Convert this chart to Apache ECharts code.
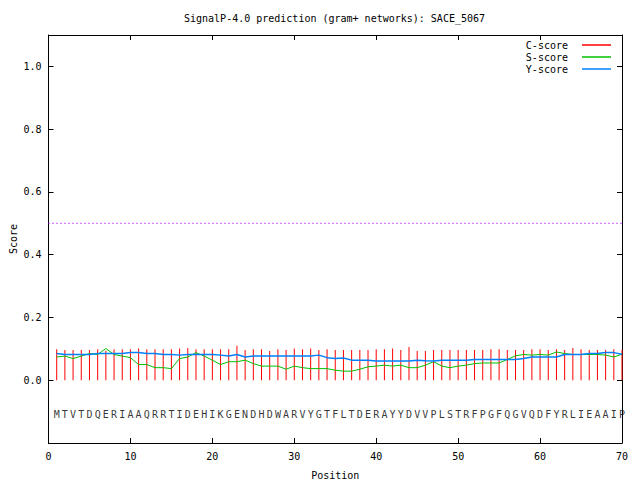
<!DOCTYPE html>
<html>
<head>
<meta charset="utf-8">
<script src="https://cdn.jsdelivr.net/npm/echarts@6/dist/echarts.min.js"></script>
<style>html,body{margin:0;padding:0;background:#fff;}#chart{width:640px;height:480px;}</style>
</head>
<body>
<div id="chart"></div>
<script>
const titleText = "SignalP-4.0 prediction (gram+ networks): SACE_5067";
const sequence = "MTVTDQERIAAQRRTIDEHIKGENDHDWARVYGTFLTDERAYYDVVPLSTRFPGFQGVQDFYRLIEAAIP".split("");
const positions = sequence.map((_, i) => i + 1);
const cScore = [0.099,0.096,0.096,0.096,0.096,0.099,0.094,0.099,0.099,0.099,
                0.101,0.099,0.099,0.099,0.099,0.101,0.103,0.099,0.099,0.099,
                0.099,0.099,0.110,0.096,0.099,0.099,0.093,0.099,0.096,0.101,
                0.099,0.101,0.096,0.099,0.096,0.096,0.096,0.096,0.096,0.099,
                0.099,0.101,0.096,0.106,0.093,0.093,0.096,0.096,0.096,0.096,
                0.096,0.096,0.096,0.099,0.099,0.096,0.096,0.096,0.099,0.099,
                0.096,0.099,0.096,0.103,0.099,0.096,0.096,0.096,0.099,0.096];
const sScore = [0.074,0.077,0.069,0.077,0.085,0.082,0.101,0.082,0.077,0.072,
                0.050,0.050,0.040,0.040,0.037,0.069,0.074,0.088,0.077,0.064,
                0.050,0.059,0.059,0.064,0.053,0.045,0.045,0.045,0.035,0.045,
                0.040,0.037,0.037,0.037,0.032,0.029,0.029,0.035,0.043,0.045,
                0.048,0.045,0.048,0.040,0.040,0.048,0.059,0.045,0.040,0.045,
                0.048,0.053,0.055,0.055,0.055,0.066,0.078,0.082,0.080,0.082,
                0.080,0.090,0.085,0.082,0.082,0.082,0.082,0.080,0.074,0.083];
const yScore = [0.085,0.082,0.082,0.082,0.082,0.085,0.085,0.085,0.085,0.088,
                0.088,0.085,0.085,0.082,0.082,0.080,0.082,0.082,0.082,0.082,
                0.080,0.077,0.082,0.074,0.077,0.077,0.077,0.077,0.077,0.077,
                0.077,0.077,0.080,0.072,0.069,0.071,0.064,0.064,0.064,0.061,
                0.061,0.061,0.061,0.061,0.064,0.062,0.061,0.064,0.064,0.064,
                0.064,0.066,0.066,0.066,0.066,0.066,0.066,0.069,0.074,0.074,
                0.074,0.074,0.082,0.082,0.082,0.085,0.085,0.088,0.088,0.083];
const cutoff = 0.5;
const seqRowY = -0.11;
const xTicks = [0, 70, 10];
const yTicks = [-0.2, 1.1, 0.2];
const colors = {c: '#ff0000', s: '#00c000', y: '#0080ff', cut: '#b000ff'};

const FONT = "DejaVu Sans Mono";
const chart = echarts.init(document.getElementById('chart'), null, {renderer: 'svg'});
const zip = (a) => positions.map((p, i) => [p, a[i]]);
const axBase = () => ({
  axisLine: {show: true, onZero: false, lineStyle: {color: '#000', width: 1}},
  axisTick: {show: true, inside: true, length: 5, lineStyle: {color: '#000'}},
  splitLine: {show: false}
});
const yFmt = v => (v < -0.01 || v > 1.05) ? '' : Math.abs(v).toFixed(1);
const legendItem = (name, color) => ({name, itemStyle: {color, borderWidth: 0, opacity: 1}});
chart.setOption({
  animation: false,
  backgroundColor: '#fff',
  title: {text: titleText, left: 179, top: 8,
          textStyle: {fontFamily: FONT, fontSize: 10, fontWeight: 'normal', color: '#000'}},
  legend: {
    data: [legendItem('C-score', colors.c), legendItem('S-score', colors.s), legendItem('Y-score', colors.y)],
    orient: 'vertical', align: 'right', right: 24, top: 35,
    itemWidth: 29, itemHeight: 1.5, itemGap: 2, icon: 'rect',
    itemStyle: {borderWidth: 0},
    textStyle: {fontFamily: FONT, fontSize: 10, color: '#000', padding: [0, 9, 0, 0]}
  },
  grid: {left: 48.5, right: 18, top: 35, bottom: 37, outerBoundsMode: 'none', containLabel: false},
  xAxis: [
    Object.assign({type: 'value', min: xTicks[0], max: xTicks[1], interval: xTicks[2], position: 'bottom',
      name: 'Position', nameLocation: 'middle', nameGap: 27,
      nameTextStyle: {fontFamily: FONT, fontSize: 10, color: '#000'},
      axisLabel: {fontFamily: FONT, fontSize: 10, color: '#000', margin: 8}}, axBase()),
    Object.assign({type: 'value', min: xTicks[0], max: xTicks[1], interval: xTicks[2], position: 'top',
      axisLabel: {show: false}}, axBase())
  ],
  yAxis: [
    Object.assign({type: 'value', min: yTicks[0], max: yTicks[1], interval: yTicks[2], position: 'left',
      name: 'Score', nameLocation: 'middle', nameGap: 30, nameRotate: 90, nameMoveOverlap: false,
      nameTextStyle: {fontFamily: FONT, fontSize: 10, color: '#000'},
      axisLabel: {fontFamily: FONT, fontSize: 10, color: '#000', margin: 7, formatter: yFmt}}, axBase()),
    Object.assign({type: 'value', min: yTicks[0], max: yTicks[1], interval: yTicks[2], position: 'right',
      axisLabel: {show: false}}, axBase())
  ],
  series: [
    {name: 'cutoff', type: 'line', data: [[xTicks[0], cutoff], [xTicks[1], cutoff]], symbol: 'none',
     lineStyle: {color: colors.cut, width: 1.2, type: [1, 3]}, silent: true, z: 1},
    {name: 'C-score', type: 'bar', data: zip(cScore), barWidth: 1, itemStyle: {color: colors.c}, z: 2},
    {name: 'S-score', type: 'line', data: zip(sScore), symbol: 'none', color: colors.s,
     itemStyle: {color: colors.s}, lineStyle: {color: colors.s, width: 1}, z: 3},
    {name: 'Y-score', type: 'line', data: zip(yScore), symbol: 'none', color: colors.y,
     itemStyle: {color: colors.y}, lineStyle: {color: colors.y, width: 1.5}, z: 4},
    {name: 'sequence', type: 'scatter', data: positions.map((p, i) => [p, seqRowY, sequence[i]]),
     symbolSize: 1, itemStyle: {color: 'rgba(0,0,0,0)'}, clip: false, silent: true,
     label: {show: true, position: 'inside', formatter: p => p.data[2],
             fontFamily: FONT, fontSize: 10, color: '#000'}}
  ]
});
</script>
</body>
</html>
